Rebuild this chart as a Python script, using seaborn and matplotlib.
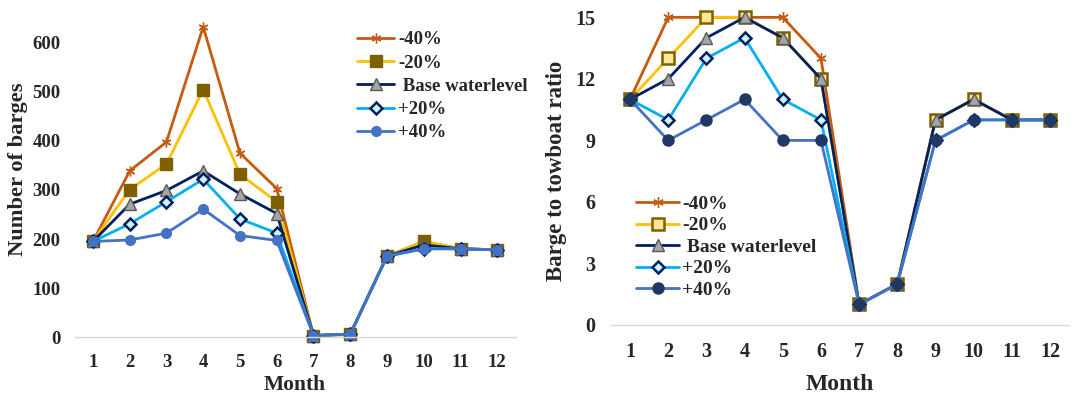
import matplotlib
matplotlib.use("Agg")
import matplotlib.pyplot as plt
import seaborn as sns

months = list(range(1, 13))
series_names = ["-40%", "-20%", " Base waterlevel", "+20%", "+40%"]

# Number of barges per month for each water-level scenario
barges_m40 = [195, 339, 398, 633, 375, 303, 3, 5, 165, 195, 180, 178]
barges_m20 = [195, 301, 353, 505, 332, 276, 3, 6, 165, 195, 180, 178]
barges_base = [195, 271, 299, 339, 292, 252, 3, 6, 165, 188, 180, 178]
barges_p20 = [195, 231, 276, 322, 241, 212, 3, 6, 165, 180, 180, 178]
barges_p40 = [195, 198, 212, 261, 207, 197, 3, 6, 165, 180, 180, 178]

# Barge-to-towboat ratio per month for each scenario
ratio_m40 = [11, 15, 15, 15, 15, 13, 1, 2, 10, 11, 10, 10]
ratio_m20 = [11, 13, 15, 15, 14, 12, 1, 2, 10, 11, 10, 10]
ratio_base = [11, 12, 14, 15, 14, 12, 1, 2, 10, 11, 10, 10]
ratio_p20 = [11, 10, 13, 14, 11, 10, 1, 2, 9, 10, 10, 10]
ratio_p40 = [11, 9, 10, 11, 9, 9, 1, 2, 9, 10, 10, 10]

barge_ticks = [0, 100, 200, 300, 400, 500, 600]
ratio_ticks = [0, 3, 6, 9, 12, 15]

sns.set_theme(style="white")
plt.rcParams["font.family"] = ["Liberation Serif", "DejaVu Serif"]
plt.rcParams["font.weight"] = "bold"

TEXT = "#262626"
STAR = (6, 2, 0)

left_styles = [
    dict(color="#C55A11", marker=STAR, markersize=7, markerfacecolor="#C55A11",
         markeredgecolor="#C55A11", markeredgewidth=1.0),
    dict(color="#FFC000", marker="s", markersize=8, markerfacecolor="#7F6000",
         markeredgecolor="#7F6000", markeredgewidth=1.0),
    dict(color="#002060", marker="^", markersize=8.5, markerfacecolor="#A5A5A5",
         markeredgecolor="#595959", markeredgewidth=1.0),
    dict(color="#00B0F0", marker="D", markersize=6, markerfacecolor="#CCF5FF",
         markeredgecolor="#002060", markeredgewidth=1.8),
    dict(color="#4472C4", marker="o", markersize=7, markerfacecolor="#4472C4",
         markeredgecolor="#4472C4", markeredgewidth=1.0),
]
right_styles = [
    dict(color="#C55A11", marker=STAR, markersize=7.5, markerfacecolor="#C55A11",
         markeredgecolor="#C55A11", markeredgewidth=1.0),
    dict(color="#FFC000", marker="s", markersize=8, markerfacecolor="#FFE699",
         markeredgecolor="#7F6000", markeredgewidth=1.8),
    dict(color="#002060", marker="^", markersize=9, markerfacecolor="#A5A5A5",
         markeredgecolor="#595959", markeredgewidth=1.0),
    dict(color="#00B0F0", marker="D", markersize=6.5, markerfacecolor="#CCF5FF",
         markeredgecolor="#002060", markeredgewidth=1.8),
    dict(color="#4472C4", marker="o", markersize=8, markerfacecolor="#203864",
         markeredgecolor="#203864", markeredgewidth=1.0),
]

fig = plt.figure(figsize=(10.84, 3.97), dpi=100)
ax1 = fig.add_axes([0.0688, 0.1511, 0.4069, 0.8036])
ax2 = fig.add_axes([0.5636, 0.1814, 0.4227, 0.7935])


def draw(ax, data, styles, ylim, yticks, ylabel, tick_fs, label_fs, ylabel_fs,
         ylabel_xy, xlabel_y, ypad):
    for name, vals, st in zip(series_names, data, styles):
        sns.lineplot(x=months, y=vals, ax=ax, label=name, linewidth=2.0,
                     clip_on=False, **st)
    ax.set_xlim(0.5, 12.5)
    ax.set_ylim(*ylim)
    ax.set_xticks(months)
    ax.set_yticks(yticks)
    ax.set_xticklabels([str(m) for m in months], fontsize=tick_fs,
                       fontweight="bold", color=TEXT)
    ax.set_yticklabels([str(t) for t in yticks], fontsize=tick_fs,
                       fontweight="bold", color=TEXT)
    ax.tick_params(axis="x", length=0, pad=12)
    ax.tick_params(axis="y", length=0, pad=ypad)
    for side in ["top", "right", "left"]:
        ax.spines[side].set_visible(False)
    ax.spines["bottom"].set_color("#D9D9D9")
    ax.spines["bottom"].set_linewidth(1.0)
    ax.set_xlabel("Month", fontsize=label_fs, fontweight="bold", color=TEXT)
    ax.set_ylabel(ylabel, fontsize=ylabel_fs, fontweight="bold", color=TEXT)
    ax.yaxis.set_label_coords(*ylabel_xy)
    ax.xaxis.set_label_coords(0.5, xlabel_y)


draw(ax1, [barges_m40, barges_m20, barges_base, barges_p20, barges_p40],
     left_styles, (0, 651), barge_ticks, "Number of barges", 13.5, 15.5, 16.2,
     (-0.105, 0.527), -0.119, 10)
draw(ax2, [ratio_m40, ratio_m20, ratio_base, ratio_p20, ratio_p40],
     right_styles, (0, 15.36), ratio_ticks, "Barge to towboat ratio", 14.5, 17, 16.5,
     (-0.096, 0.49), -0.156, 11)

leg1 = ax1.legend(loc="upper left", bbox_to_anchor=(0.640, 0.959), frameon=False,
                  prop=dict(family="Liberation Serif", weight="bold", size=13.5),
                  handlelength=2.0, handletextpad=0.2, labelspacing=0.33,
                  borderpad=0, borderaxespad=0)
leg2 = ax2.legend(loc="upper left", bbox_to_anchor=(0.055, 0.412), frameon=False,
                  prop=dict(family="Liberation Serif", weight="bold", size=14),
                  handlelength=2.2, handletextpad=0.15, labelspacing=0.2,
                  borderpad=0, borderaxespad=0)
for leg in (leg1, leg2):
    for t in leg.get_texts():
        t.set_color(TEXT)

fig.savefig("out.png", dpi=100)
